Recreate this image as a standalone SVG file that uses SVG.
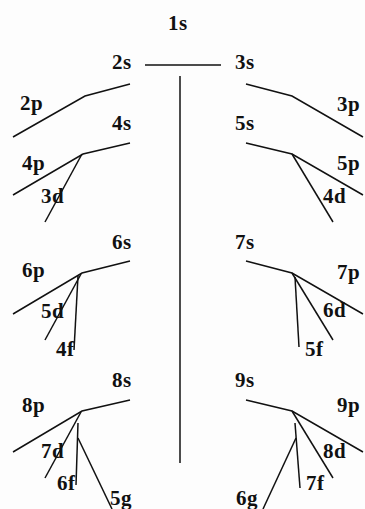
<svg xmlns="http://www.w3.org/2000/svg" width="365" height="509" viewBox="0 0 365 509">
<style>
text{font-family:"Liberation Serif","Times New Roman",serif;font-weight:bold;font-size:21px;letter-spacing:0.5px;fill:#111}
.c line,.c polyline{stroke:#111;stroke-width:1.5;fill:none}
</style>
<rect width="365" height="509" fill="#fdfdfd"/>
<g class="c" id="connectors">
<line x1="145" y1="65" x2="221" y2="65"/>
<line x1="180" y1="76" x2="180" y2="463"/>
<polyline points="130,84 85,96 13,137"/>
<polyline points="246,84 292,96 363,137"/>
<polyline points="130,143 83,154 13,195"/>
<line x1="82" y1="154" x2="45" y2="222"/>
<polyline points="246,143 292,154 363,195"/>
<line x1="292" y1="154" x2="333" y2="222"/>
<polyline points="130,261 82,273 13,314"/>
<line x1="81" y1="274" x2="45" y2="340"/>
<line x1="78" y1="276" x2="74" y2="350"/>
<polyline points="246,261 292,273 363,314"/>
<line x1="292" y1="273" x2="333" y2="340"/>
<line x1="295" y1="277" x2="299" y2="347"/>
<polyline points="130,400 82,411 13,452"/>
<line x1="81" y1="412" x2="45" y2="478"/>
<line x1="78" y1="423" x2="76" y2="485"/>
<line x1="78" y1="438" x2="112" y2="509"/>
<polyline points="246,400 292,411 363,452"/>
<line x1="292" y1="411" x2="333" y2="478"/>
<line x1="295" y1="423" x2="300" y2="488"/>
<line x1="296" y1="438" x2="263" y2="509"/>
</g>
<g id="n1s"><text x="168" y="30">1s</text></g>
<g id="n2s"><text x="112" y="69">2s</text></g>
<g id="n3s"><text x="235" y="69">3s</text></g>
<g id="n2p"><text x="20" y="110">2p</text></g>
<g id="n3p"><text x="337" y="111">3p</text></g>
<g id="n4s"><text x="112" y="130">4s</text></g>
<g id="n5s"><text x="235" y="130">5s</text></g>
<g id="n4p"><text x="22" y="170">4p</text></g>
<g id="n5p"><text x="337" y="170">5p</text></g>
<g id="n3d"><text x="41" y="203">3d</text></g>
<g id="n4d"><text x="323" y="203">4d</text></g>
<g id="n6s"><text x="112" y="249">6s</text></g>
<g id="n7s"><text x="235" y="249">7s</text></g>
<g id="n6p"><text x="22" y="277">6p</text></g>
<g id="n7p"><text x="337" y="279">7p</text></g>
<g id="n5d"><text x="41" y="318">5d</text></g>
<g id="n6d"><text x="323" y="317">6d</text></g>
<g id="n4f"><text x="56" y="356">4f</text></g>
<g id="n5f"><text x="305" y="356">5f</text></g>
<g id="n8s"><text x="112" y="387">8s</text></g>
<g id="n9s"><text x="235" y="387">9s</text></g>
<g id="n8p"><text x="22" y="412">8p</text></g>
<g id="n9p"><text x="337" y="412">9p</text></g>
<g id="n7d"><text x="41" y="458">7d</text></g>
<g id="n8d"><text x="323" y="458">8d</text></g>
<g id="n6f"><text x="57" y="490">6f</text></g>
<g id="n7f"><text x="306" y="490">7f</text></g>
<g id="n5g"><text x="110" y="505">5g</text></g>
<g id="n6g"><text x="236" y="505">6g</text></g>
</svg>
